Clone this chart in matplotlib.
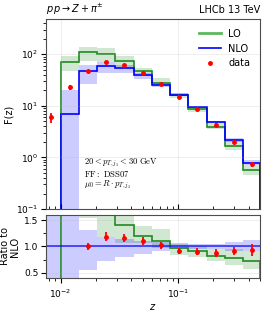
"""
Z + pion fragmentation function: LO / NLO predictions vs data, with ratio panel.
"""

import numpy as np
import matplotlib
matplotlib.use("Agg")
import matplotlib.pyplot as plt
from matplotlib.lines import Line2D

# z bin edges (first bin has data only)
EDGES = [0.007, 0.01, 0.0143, 0.0204, 0.0292, 0.0418, 0.0598, 0.0855,
         0.122, 0.175, 0.250, 0.358, 0.5]

NAN = np.nan
LO = [0, 71, 108, 103, 74.5, 46.5, 28, 16, 8.6, 3.95, 1.68, 0.56]
LO_DOWN = [NAN, 48, 73, 70, 57, 41, 25, 13.9, 7.5, 3.5, 1.4, 0.45]
LO_UP = [NAN, 92, 139, 129, 91, 54, 34, 17.4, 9.4, 4.6, 2.05, 0.71]

NLO = [0, 6.9, 47.5, 59, 53, 38.7, 25.5, 16.5, 9.4, 4.8, 2.17, 0.78]
NLO_DOWN = [NAN, 0.01, 26, 43, 42.5, 33, 23.2, 15.7, 9.0, 4.6, 2.0, 0.72]
NLO_UP = [NAN, 20, 62, 70, 60.5, 42.5, 27.9, 17.5, 9.8, 5.0, 2.37, 0.875]

DATA = [6.0, 22.7, 47.5, 70, 62, 42.5, 26, 15.1, 8.5, 4.2, 1.97, 0.73]
DATA_ERR = [1.4, 2.5, 3, 5, 4, 3, 1.8, 1.0, 0.6, 0.35, 0.17, 0.09]

C_LO = "#1f8a1f"
C_NLO = "blue"


def band(ax, edges, lo, hi, color):
    """Step-shaped band over bins (nan bins are skipped)."""
    lo = np.append(lo, lo[-1])
    hi = np.append(hi, hi[-1])
    ax.fill_between(edges, lo, hi, step="post", color=color, alpha=0.2, lw=0)


def main() -> None:
    edges = np.array(EDGES)
    centers = np.sqrt(edges[:-1] * edges[1:])
    lo, nlo = np.array(LO, float), np.array(NLO, float)
    data, err = np.array(DATA, float), np.array(DATA_ERR, float)

    plt.rcParams["font.size"] = 7
    plt.rcParams["xtick.labelsize"] = 6.5
    plt.rcParams["ytick.labelsize"] = 6.5
    fig = plt.figure(figsize=(2.67, 3.12), dpi=100)
    ax = fig.add_axes([0.172, 0.330, 0.802, 0.609])
    rax = fig.add_axes([0.172, 0.109, 0.802, 0.202], sharex=ax)

    # main panel
    band(ax, edges, np.array(LO_DOWN), np.array(LO_UP), C_LO)
    band(ax, edges, np.array(NLO_DOWN), np.array(NLO_UP), C_NLO)
    ax.stairs(lo, edges, color=C_LO, lw=1.2)
    ax.stairs(nlo, edges, color=C_NLO, lw=1.2)
    ax.errorbar(centers, data, yerr=err, fmt="o", color="red", ms=2.5,
                elinewidth=1.3, capsize=0)
    ax.set_yscale("log")
    ax.set_xscale("log")
    ax.set_xlim(0.0075, 0.5)
    ax.set_ylim(0.1, 480)
    ax.set_ylabel("F(z)", labelpad=2)
    ax.tick_params(axis="x", which="both", direction="in", labelbottom=False)
    ax.tick_params(axis="y", pad=2)
    ax.grid(True, alpha=0.3, lw=0.5)
    ax.set_title(r"$p\,p \rightarrow Z + \pi^{\pm}$", loc="left", fontsize=7, pad=4)
    ax.set_title("LHCb 13 TeV", loc="right", fontsize=7, pad=4)

    notes = [r"$20 < p_{T,j_1} < 30\ \mathrm{GeV}$",
             r"$\mathrm{FF{:}\ DSS07}$",
             r"$\mu_0 = R \cdot p_{T,j_1}$"]
    for i, note in enumerate(notes):
        ax.text(0.18, 0.242 - 0.056 * i, note, transform=ax.transAxes,
                fontsize=6.2, va="center", math_fontfamily="cm")

    handles = [Line2D([], [], color="#5cb85c", lw=2),
               Line2D([], [], color=C_NLO, lw=1.2),
               Line2D([], [], color="red", marker="o", ms=2.5, ls="none")]
    ax.legend(handles, ["LO", "NLO", "data"], loc="upper right", frameon=False,
              fontsize=7, handlelength=2.2, borderaxespad=0.6, labelspacing=0.5)

    # ratio panel
    with np.errstate(divide="ignore", invalid="ignore"):
        r_lo = np.where(nlo > 0, lo / nlo, 0)
        r_lo_dn = np.array(LO_DOWN) / nlo
        r_lo_up = np.array(LO_UP) / nlo
        r_nlo_dn = np.where(nlo > 0, np.array(NLO_DOWN) / nlo, 0)
        r_nlo_up = np.where(nlo > 0, np.array(NLO_UP) / nlo, 10)
        r_data = np.where(nlo > 0, data / nlo, np.nan)
        r_err = np.where(nlo > 0, err / nlo, np.nan)

    band(rax, edges, r_lo_dn, r_lo_up, C_LO)
    band(rax, edges, r_nlo_dn, r_nlo_up, C_NLO)
    rax.stairs(r_lo, edges, color=C_LO, lw=1.2)
    rax.axhline(1.0, color=C_NLO, lw=1.3, alpha=0.7)
    rax.errorbar(centers, r_data, yerr=r_err, fmt="o", color="red", ms=2.5,
                 elinewidth=1.3, capsize=0)
    rax.set_ylim(0.4, 1.6)
    rax.set_yticks([0.5, 1.0, 1.5])
    rax.set_yticks([0.75, 1.25], minor=True)
    rax.tick_params(axis="y", pad=2)
    rax.set_ylabel("Ratio to\nNLO", labelpad=3, linespacing=1.0)
    rax.set_xlabel("$z$", labelpad=1)
    rax.grid(True, alpha=0.3, lw=0.5)

    for a in (ax, rax):
        for s in a.spines.values():
            s.set_color("0.3")

    fig.savefig("out.png", dpi=100)
    plt.close(fig)


if __name__ == "__main__":
    main()
